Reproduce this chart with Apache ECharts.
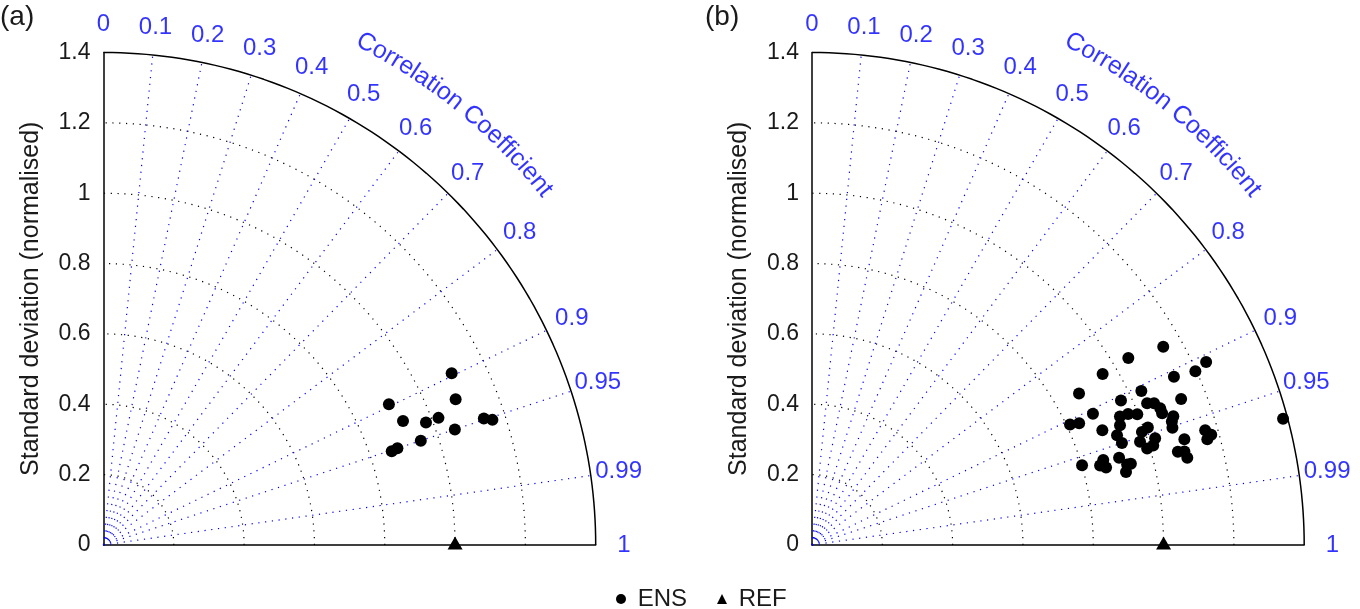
<!DOCTYPE html>
<html>
<head>
<meta charset="utf-8">
<title>Taylor diagrams</title>
<script src="https://cdn.jsdelivr.net/npm/echarts@6/dist/echarts.min.js"></script>
<style>
  html, body { margin: 0; padding: 0; background: #fff; }
  #root { width: 1360px; height: 609px; }
</style>
</head>
<body>
<div id="root"></div>
<script>
// ensemble members: normalised std dev + correlation
const ensSdA = [1.104, 1.084, 0.905, 0.922, 0.981, 1.019, 1.052, 1.140, 1.162, 0.950, 0.880, 0.862]
const ensCorA = [0.897, 0.924, 0.897, 0.924, 0.935, 0.935, 0.950, 0.949, 0.952, 0.950, 0.950, 0.951]

const ensSdB = [1.147, 1.045, 0.959, 1.236, 1.197, 1.135, 0.873, 1.034, 0.970, 1.129,
  0.882, 0.810, 0.835, 0.888, 1.035, 1.053, 1.064, 1.064, 0.997, 0.973,
  0.949, 0.940, 0.922, 0.928, 1.091, 1.082, 1.078, 0.992, 1.012, 0.978,
  0.992, 1.022, 1.011, 1.101, 1.165, 1.178, 1.164, 1.074, 1.092, 1.096,
  0.908, 0.863, 0.850, 0.865, 0.925, 0.936, 0.917, 0.801, 1.387]
const ensCorB = [0.871, 0.861, 0.862, 0.907, 0.911, 0.907, 0.870, 0.906, 0.906, 0.930,
  0.906, 0.906, 0.910, 0.930, 0.921, 0.924, 0.931, 0.936, 0.928, 0.924,
  0.923, 0.932, 0.941, 0.950, 0.942, 0.946, 0.951, 0.946, 0.944, 0.954,
  0.961, 0.955, 0.960, 0.962, 0.960, 0.964, 0.966, 0.969, 0.970, 0.974,
  0.962, 0.960, 0.964, 0.967, 0.969, 0.969, 0.974, 0.959, 0.966]

// reference point
const refSd = 1
const refCor = 1

// axes / grid values
const sdMax = 1.4
const sdArcs = [0.2, 0.4, 0.6, 0.8, 1, 1.2]
const corrLines = [0.1, 0.2, 0.3, 0.4, 0.5, 0.6, 0.7, 0.8, 0.9, 0.95, 0.99]
const corrTicks = [0, 0.1, 0.2, 0.3, 0.4, 0.5, 0.6, 0.7, 0.8, 0.9, 0.95, 0.99, 1]
const panelNames = ['(a)', '(b)']
const corrTitle = 'Correlation Coefficient'
const sdTitle = 'Standard deviation (normalised)'

const FONT = '"Liberation Sans", Arial, sans-serif'
const FS = 24
const BLUE = '#0000ff'
const INK = '#1a1a1a'

const gridW = 492.2
const pxPerUnit = gridW / sdMax
const gridLefts = [103.5, 812]

const main = document.getElementById('root')
const myChart = echarts.init(main, null, { renderer: 'canvas' })

// sd + correlation -> cartesian position on the quarter plane
const toXY = (sd, r) => [sd * r, sd * Math.sqrt(Math.max(0, 1 - r * r))]

function arc(radius) {
  const pts = []
  for (let a = 0; a <= 90; a += 1) {
    const t = a * Math.PI / 180
    pts.push([radius * Math.cos(t), radius * Math.sin(t)])
  }
  return pts
}

// letters of the curved title, placed along an arc around the origin
function curvedText(text, radius, midDeg, size) {
  const ctx = document.createElement('canvas').getContext('2d')
  ctx.font = `${size}px ${FONT}`
  const total = ctx.measureText(text).width
  const rPx = radius * pxPerUnit
  const items = []
  for (let k = 0; k < text.length; k++) {
    const ch = text[k]
    if (ch === ' ') continue
    const left = ctx.measureText(text.slice(0, k)).width
    const s = left + ctx.measureText(ch).width / 2
    const th = midDeg * Math.PI / 180 + (total / 2 - s) / rPx
    items.push({
      name: ch,
      value: [radius * Math.cos(th), radius * Math.sin(th)],
      label: { rotate: th * 180 / Math.PI - 90 }
    })
  }
  return items
}

const dotted = (color) => ({ color, width: 1.2, type: [1.2, 5.6] })

function panelSeries(i, sds, cors) {
  const base = { xAxisIndex: i, yAxisIndex: i, animation: false }
  const s = []
  sdArcs.forEach(r => s.push({
    ...base, type: 'line', silent: true, data: arc(r), showSymbol: false,
    lineStyle: dotted('#000'), z: 1
  }))
  corrLines.forEach(c => s.push({
    ...base, type: 'line', silent: true, data: [[0, 0], toXY(sdMax, c)], showSymbol: false,
    lineStyle: dotted(BLUE), z: 1
  }))
  s.push({
    ...base, type: 'line', silent: true, clip: false, data: arc(sdMax), showSymbol: false,
    lineStyle: { color: '#000', width: 1.5 }, z: 3
  })
  // correlation tick labels
  s.push({
    ...base, type: 'scatter', silent: true, clip: false, symbolSize: 1,
    itemStyle: { color: 'rgba(0,0,0,0)' },
    label: { show: true, position: 'inside', formatter: '{b}', color: BLUE, fontSize: FS, fontFamily: FONT },
    data: corrTicks.map(c => ({ name: String(c), value: toXY(1.48, c) }))
  })
  // curved axis title
  s.push({
    ...base, type: 'scatter', silent: true, clip: false, symbolSize: 1,
    itemStyle: { color: 'rgba(0,0,0,0)' },
    label: { show: true, position: 'inside', formatter: '{b}', color: BLUE, fontSize: 25, fontFamily: FONT },
    data: curvedText(corrTitle, 1.61, 50.8, 25)
  })
  s.push({
    ...base, name: 'ENS', type: 'scatter', symbol: 'circle', symbolSize: 12,
    itemStyle: { color: '#000', opacity: 1 }, z: 5,
    data: sds.map((sd, k) => toXY(sd, cors[k]))
  })
  s.push({
    ...base, name: 'REF', type: 'scatter', symbol: 'triangle', symbolSize: [15, 13],
    symbolOffset: [0, -2], clip: false, itemStyle: { color: '#000', opacity: 1 }, z: 6,
    data: [toXY(refSd, refCor)]
  })
  return s
}

const option = {
  backgroundColor: '#fff',
  textStyle: { fontFamily: FONT },
  grid: gridLefts.map(left => ({
    left, top: 52.5, width: gridW, height: 492.5, outerBoundsMode: 'none', containLabel: false
  })),
  xAxis: [0, 1].map(i => ({
    gridIndex: i, type: 'value', min: 0, max: sdMax,
    axisLine: { show: true, onZero: false, lineStyle: { color: '#000', width: 1.5 } },
    axisTick: { show: false }, axisLabel: { show: false }, splitLine: { show: false }
  })),
  yAxis: [0, 1].map(i => ({
    gridIndex: i, type: 'value', min: 0, max: sdMax, interval: 0.2,
    axisLine: { show: true, lineStyle: { color: '#000', width: 1.5 } },
    axisTick: { show: false }, splitLine: { show: false },
    axisLabel: { color: INK, fontSize: 23, fontFamily: FONT, margin: 13 },
    name: sdTitle, nameLocation: 'middle', nameRotate: 90, nameGap: 60,
    nameTextStyle: { color: INK, fontSize: 25, fontFamily: FONT }
  })),
  legend: {
    left: 611, top: 582, itemGap: 30, itemWidth: 10, itemHeight: 10,
    data: [{ name: 'ENS', icon: 'circle' }, { name: 'REF', icon: 'triangle' }],
    formatter: name => ' ' + name,
    textStyle: { color: INK, fontSize: FS, fontFamily: FONT }
  },
  graphic: panelNames.map((t, i) => ({
    type: 'text', left: i === 0 ? 0 : 705, top: 3,
    style: { text: t, fill: INK, fontSize: 28, fontFamily: FONT }
  })),
  series: [
    ...panelSeries(0, ensSdA, ensCorA),
    ...panelSeries(1, ensSdB, ensCorB)
  ]
}

myChart.setOption(option)
</script>
</body>
</html>
